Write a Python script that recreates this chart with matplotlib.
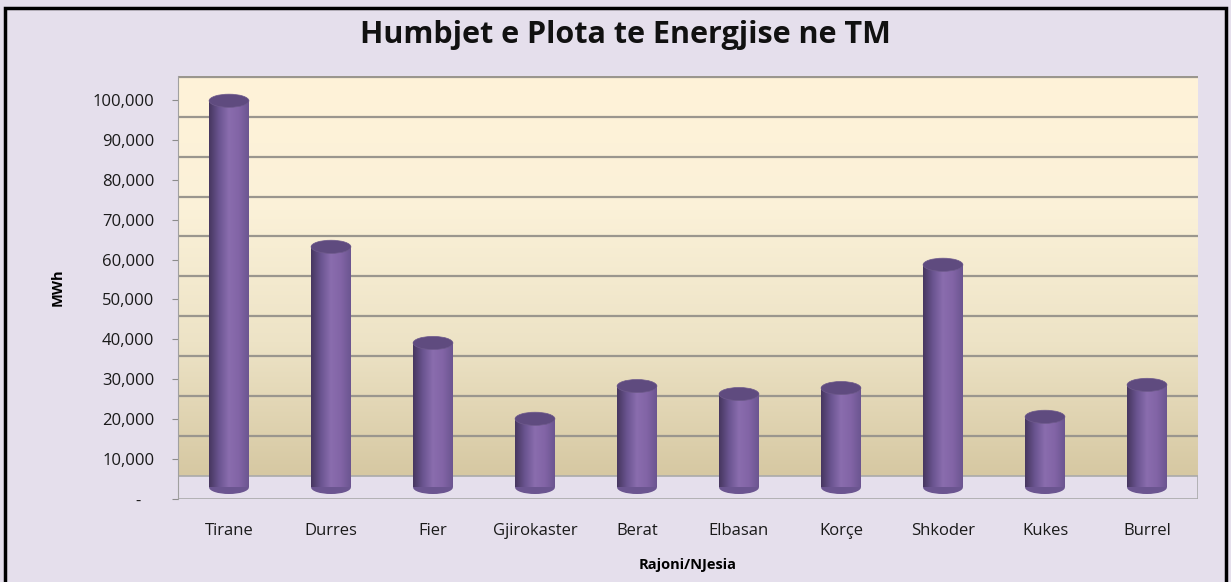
import numpy as np
import matplotlib.pyplot as plt
from matplotlib.patches import Ellipse, Rectangle
from matplotlib.colors import LinearSegmentedColormap
from matplotlib.ticker import FuncFormatter

regions = ["Tirane", "Durres", "Fier", "Gjirokaster", "Berat",
           "Elbasan", "Korçe", "Shkoder", "Kukes", "Burrel"]
losses_mwh = [96900, 60300, 36200, 17200, 25400, 23400, 24900, 55800, 17700, 25700]
y_ticks = list(range(0, 100001, 10000))

plt.rcParams["font.family"] = ["Open Sans", "DejaVu Sans"]

fig = plt.figure(figsize=(12.31, 5.82), dpi=100)
fig.patch.set_facecolor("#E5DFEC")
# outer black frame
fig.add_artist(Rectangle((0.004, -0.01), 0.992, 0.996, transform=fig.transFigure,
                         fill=False, edgecolor="black", linewidth=2.5))

ax = fig.add_axes([178 / 1231, 1 - 499 / 582, 1020 / 1231, 423 / 582])
ax.set_facecolor("#E5DFEC")
ymax = 106000
ax.set_xlim(-0.5, len(regions) - 0.5)
ax.set_ylim(0, ymax)

depth = 5800          # back wall offset (3D perspective)
mid = depth / 2       # columns stand halfway into the floor

# back wall with vertical gradient
wall = LinearSegmentedColormap.from_list("wall", ["#D6C8A2", "#EDE3C6", "#FBF1D8", "#FFF3D9"])
grad = np.linspace(0, 1, 256).reshape(-1, 1)
ax.imshow(grad, cmap=wall, aspect="auto", origin="lower",
          extent=[-0.5, len(regions) - 0.5, depth, ymax], zorder=0)
for t in y_ticks[1:]:
    if t + depth < ymax:
        ax.axhline(t + depth, color="#9A968E", linewidth=1.6, zorder=1)
# floor
ax.add_patch(Rectangle((-0.5, 0), len(regions), depth, facecolor="#E5DFEC",
                       edgecolor="#AAAAAA", linewidth=1.2, zorder=1))

# cylinders
cyl = LinearSegmentedColormap.from_list("cyl", ["#46365F", "#6A5490", "#8A6DAE", "#8264A6", "#6B5590"])
hgrad = np.linspace(0, 1, 256).reshape(1, -1)
width = 0.39
cap = 3300
for i, v in enumerate(losses_mwh):
    x0, x1 = i - width / 2, i + width / 2
    ax.add_patch(Ellipse((i, mid), width, cap, facecolor="#6B5590", edgecolor="none", zorder=2))
    ax.imshow(hgrad, cmap=cyl, aspect="auto", extent=[x0, x1, mid, mid + v], zorder=3)
    ax.add_patch(Ellipse((i, mid + v), width, cap, facecolor="#5F4B7F",
                         edgecolor="#6E5A8C", linewidth=0.5, zorder=4))
ax.set_xlim(-0.5, len(regions) - 0.5)
ax.set_ylim(0, ymax)

ax.set_xticks(range(len(regions)))
ax.set_xticklabels(regions, fontsize=12, color="#1A1A1A")
ax.set_yticks(y_ticks)
ax.yaxis.set_major_formatter(FuncFormatter(lambda v, p: "-   " if v == 0 else f"{int(v):,}"))
ax.tick_params(axis="y", labelsize=12, colors="#1A1A1A", length=4, color="#8C8C8C", pad=13)
ax.tick_params(axis="x", length=0, pad=17)
for s in ["top", "right", "bottom"]:
    ax.spines[s].set_visible(False)
ax.spines["left"].set_color("#A0A0A0")

ax.set_ylabel("MWh", fontsize=10.5, fontweight="bold", labelpad=20)
ax.set_xlabel("Rajoni/NJesia", fontsize=10.5, fontweight="bold", labelpad=14)
fig.text(625 / 1231, 1 - 35 / 582, "Humbjet e Plota te Energjise ne TM",
         ha="center", va="center", fontsize=22, fontweight="bold", color="#111111")

fig.savefig("out.png", dpi=100, facecolor=fig.get_facecolor())
